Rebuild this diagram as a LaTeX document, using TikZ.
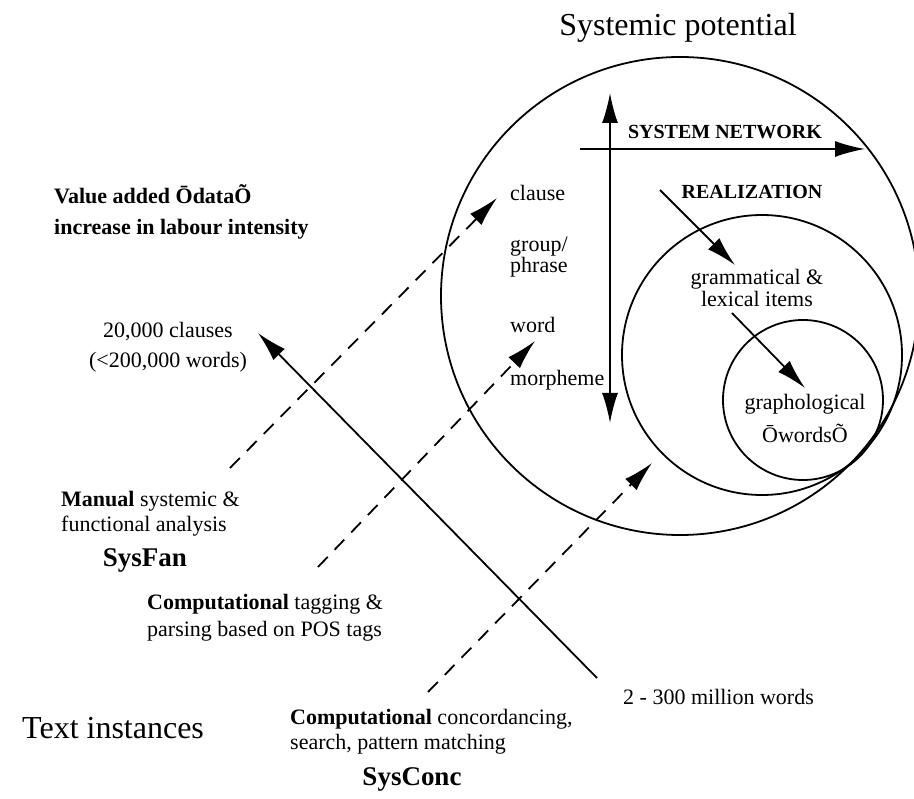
\documentclass[tikz,border=0pt]{standalone}
\usepackage{fontspec}
\setmainfont{Liberation Serif}
\usetikzlibrary{arrows.meta}
\newcommand*{\fs}[2]{\fontsize{#1}{#2}\selectfont}
\tikzstyle{ring}=[draw,circle,line width=1.8pt,inner sep=0pt]
\tikzstyle{flow}=[-{Latex[length=30pt,width=16pt]},line width=1.8pt]
\tikzstyle{dflow}=[flow,dash pattern=on 14pt off 10pt]
\tikzstyle{txt}=[inner sep=0pt,font=\fs{22}{24}]
\tikzstyle{caps}=[inner sep=0pt,font=\bfseries\fs{20}{22}]
\tikzstyle{big}=[inner sep=0pt,font=\fs{32}{34}]
\tikzstyle{tool}=[inner sep=0pt,font=\bfseries\fs{27}{29}]

\begin{document}
\begin{tikzpicture}[x=1pt,y=-1pt]
  \useasboundingbox (0,0) rectangle (914,799);
  % circles of the potential
  \node[ring,minimum size=478pt] (pot) at (680,296) {};
  \node[ring,minimum size=280pt] (lex) at (762,355) {};
  \node[ring,minimum size=160pt] (gra) at (803,400) {};
  \node[big] (title) at (678,28) {Systemic potential};
  % ranks
  \node[txt,anchor=west] (clause) at (510,193) {clause};
  \node[txt,anchor=west,align=left,font=\fs{22}{21}] (group) at (510,257) {group/\\phrase};
  \node[txt,anchor=west] (word) at (510,325) {word};
  \node[txt,anchor=west] (morph) at (510,380) {morpheme};
  \node[caps] (sysnet) at (725,132) {SYSTEM NETWORK};
  \node[caps] (real) at (752,192) {REALIZATION};
  \node[txt,align=center,font=\fs{22}{22}] (items) at (757,288) {grammatical \&\\lexical items};
  \node[txt,align=center,font=\fs{22}{33}] (graph) at (805,418) {graphological\\ŌwordsÕ};
  % axes inside
  \coordinate (ax-t) at (610,93);
  \coordinate (ax-b) at (610,423);
  \coordinate (sn-l) at (580,149);
  \coordinate (sn-r) at (865,149);
  \draw[flow,{Latex[length=30pt,width=16pt]}-{Latex[length=30pt,width=16pt]}] (ax-t) -- (ax-b);
  \draw[flow] (sn-l) -- (sn-r);
  \coordinate (re-a) at (660,190);
  \coordinate (re-b) at (735,265);
  \coordinate (it-a) at (732,313);
  \coordinate (it-b) at (805,388);
  \draw[flow] (re-a) -- (re-b);
  \draw[flow] (it-a) -- (it-b);
  % text instances
  \node[txt,anchor=west,align=left,font=\bfseries\fs{22}{31}] (value) at (54,212) {Value added ŌdataÕ\\increase in labour intensity};
  \node[txt,align=center,font=\fs{22}{30}] (small) at (168,347) {20,000 clauses\\(<200,000 words)};
  \node[txt,anchor=west,align=left,font=\fs{22}{25}] (manual) at (61,514) {\textbf{Manual} systemic \&\\functional analysis};
  \node[tool] (sysfan) at (145,560) {SysFan};
  \node[txt,anchor=west,align=left,font=\fs{22}{27}] (tagging) at (147,618) {\textbf{Computational} tagging \&\\parsing based on POS tags};
  \node[big,anchor=west] (inst) at (22,728) {Text instances};
  \node[txt,anchor=west,align=left,font=\fs{22}{25}] (conc) at (290,732) {\textbf{Computational} concordancing,\\search, pattern matching};
  \node[tool] (sysconc) at (412,779) {SysConc};
  \node[txt,anchor=west] (large) at (623,697) {2 - 300 million words};
  % analysis routes
  \coordinate (man-s) at (230,468);
  \coordinate (man-t) at (497,198);
  \coordinate (tag-s) at (318,567);
  \coordinate (tag-t) at (535,341);
  \coordinate (con-s) at (428,692);
  \coordinate (con-t) at (652,463);
  \draw[dflow] (man-s) -- (man-t);
  \draw[dflow] (tag-s) -- (tag-t);
  \draw[dflow] (con-s) -- (con-t);
  \coordinate (sz-s) at (597,678);
  \coordinate (sz-t) at (258,333);
  \draw[flow] (sz-s) -- (sz-t);
\end{tikzpicture}
\end{document}
